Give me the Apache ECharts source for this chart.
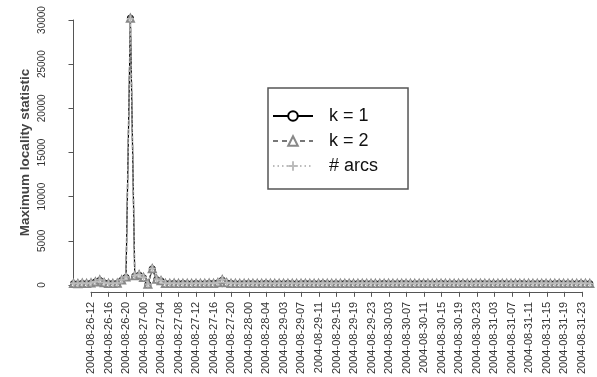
<!DOCTYPE html>
<html>
<head>
<meta charset="utf-8">
<script src="https://cdn.jsdelivr.net/npm/echarts@6/dist/echarts.min.js"></script>
<style>html,body{margin:0;padding:0;background:#fff}#c{width:597px;height:377px}</style>
</head>
<body>
<div id="c"></div>
<script>
// Tick labels on the x axis (every 4th observation, starting at observation 4)
const tickLabels = [
  "2004-08-26-12","2004-08-26-16","2004-08-26-20","2004-08-27-00","2004-08-27-04",
  "2004-08-27-08","2004-08-27-12","2004-08-27-16","2004-08-27-20","2004-08-28-00",
  "2004-08-28-04","2004-08-29-03","2004-08-29-07","2004-08-29-11","2004-08-29-15",
  "2004-08-29-19","2004-08-29-23","2004-08-30-03","2004-08-30-07","2004-08-30-11",
  "2004-08-30-15","2004-08-30-19","2004-08-30-23","2004-08-31-03","2004-08-31-07",
  "2004-08-31-11","2004-08-31-15","2004-08-31-19","2004-08-31-23"
];
const yTicks = [0, 5000, 10000, 15000, 20000, 25000, 30000];

// Series values (119 hourly observations)
const k1 = [
  150,120,180,140,200,330,520,240,160,140, 180,520,850,30200,1000,1100,800,60,1800,600,
  450,160,150,170,140,160,150,140,160,150, 150,170,160,240,550,230,160,150,140,150,
  160,150,140,150,160,150,140,150,150,160, 150,140,150,160,150,140,150,160,150,150,
  140,150,160,150,140,150,160,150,150,140, 150,160,150,140,150,160,150,150,140,150,
  160,150,140,150,160,150,150,140,150,160, 150,140,150,160,150,150,140,150,160,150,
  140,150,160,150,150,140,150,160,150,140, 150,160,150,150,140,150,160,150,140
];
const k2 = [
  170,140,200,160,220,350,560,260,180,160, 200,560,900,30200,1050,1150,850,80,1850,650,
  480,180,170,190,160,180,170,160,180,170, 170,190,180,260,600,250,180,170,160,170,
  180,170,160,170,180,170,160,170,170,180, 170,160,170,180,170,160,170,180,170,170,
  160,170,180,170,160,170,180,170,170,160, 170,180,170,160,170,180,170,170,160,170,
  180,170,160,170,180,170,170,160,170,180, 170,160,170,180,170,170,160,170,180,170,
  160,170,180,170,170,160,170,180,170,160, 170,180,170,170,160,170,180,170,160
];
const arcs = [
  190,160,220,180,240,370,580,280,200,180, 220,580,920,30150,1080,1180,870,100,1880,670,
  500,200,190,210,180,200,190,180,200,190, 190,210,200,280,620,270,200,190,180,190,
  200,190,180,190,200,190,180,190,190,200, 190,180,190,200,190,180,190,200,190,190,
  180,190,200,190,180,190,200,190,190,180, 190,200,190,180,190,200,190,190,180,190,
  200,190,180,190,200,190,190,180,190,200, 190,180,190,200,190,190,180,190,200,190,
  180,190,200,190,190,180,190,200,190,180, 190,200,190,190,180,190,200,190,180
];

const toPairs = arr => arr.map((v, i) => [i, v]);
const plusPath = 'path://M4,0h2v4h4v2h-4v4h-2v-4h-4v-2h4z';
const font = '"Liberation Sans", Arial, Helvetica, sans-serif';

const chart = echarts.init(document.getElementById('c'), null, {renderer: 'canvas'});
chart.setOption({
  animation: false,
  backgroundColor: '#fff',
  textStyle: {fontFamily: font},
  grid: [
    {left: 73.5, right: 7.2, top: 20, bottom: 92},
    {left: 91, right: 15, top: 20, bottom: 83}
  ],
  xAxis: [
    {type: 'value', gridIndex: 0, min: 0, max: k1.length - 1, show: false},
    {type: 'category', gridIndex: 1, data: tickLabels, boundaryGap: false,
     axisLine: {lineStyle: {color: '#555', width: 1}},
     axisTick: {length: 5, alignWithLabel: true, lineStyle: {color: '#555'}},
     axisLabel: {rotate: 90, interval: 0, fontSize: 11, color: '#333', margin: 10, fontFamily: font},
     splitLine: {show: false}}
  ],
  yAxis: [
    {type: 'value', gridIndex: 0, min: yTicks[0], max: yTicks[yTicks.length - 1],
     interval: yTicks[1] - yTicks[0], offset: 16.5,
     name: 'Maximum locality statistic', nameLocation: 'middle', nameGap: 25,
     nameMoveOverlap: false,
     nameTextStyle: {fontSize: 13.5, fontWeight: 'bold', color: '#444', fontFamily: font},
     axisLine: {show: true, lineStyle: {color: '#555', width: 1}},
     axisTick: {show: true, length: 5, lineStyle: {color: '#555'}},
     axisLabel: {rotate: 90, fontSize: 10, color: '#333', margin: 10, fontFamily: font,
                 formatter: v => String(v)},
     splitLine: {show: false}},
    {type: 'value', gridIndex: 1, show: false}
  ],
  legend: {
    orient: 'vertical', left: 268, top: 88,
    padding: [19, 30, 14, 4],
    itemWidth: 40, itemHeight: 12, itemGap: 7,
    borderColor: '#555', borderWidth: 1.5, borderRadius: 0,
    backgroundColor: '#fff',
    textStyle: {fontSize: 18, color: '#111', fontFamily: font, padding: [0, 0, 0, 11]},
    data: ['k = 1', 'k = 2', '# arcs']
  },
  series: [
    {name: 'k = 1', type: 'line', xAxisIndex: 0, yAxisIndex: 0, data: toPairs(k1), clip: false,
     symbol: 'emptyCircle', symbolSize: 5, showAllSymbol: true,
     lineStyle: {color: '#000', width: 1.2}, itemStyle: {color: '#000', borderWidth: 1}, z: 2},
    {name: 'k = 2', type: 'line', xAxisIndex: 0, yAxisIndex: 0, data: toPairs(k2), clip: false,
     symbol: 'emptyTriangle', symbolSize: 7, showAllSymbol: true,
     lineStyle: {color: '#777', width: 1.5, type: [5, 4]}, itemStyle: {color: '#888', borderWidth: 1.5}, z: 3},
    {name: '# arcs', type: 'line', xAxisIndex: 0, yAxisIndex: 0, data: toPairs(arcs), clip: false,
     symbol: plusPath, symbolSize: 7, showAllSymbol: true,
     lineStyle: {color: '#bbb', width: 1.2, type: [1.5, 3]}, itemStyle: {color: '#bbb'}, z: 4}
  ]
});
</script>
</body>
</html>
